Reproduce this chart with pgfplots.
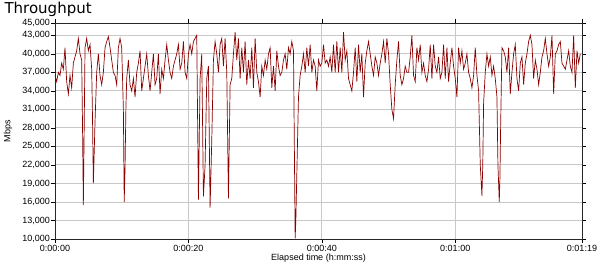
\documentclass[border=0pt]{standalone}
\usepackage{pgfplots}
\pgfplotsset{compat=1.18}
\usepackage{pgfplotstable}
\usepackage{fontspec}
\setmainfont{Liberation Sans}
\newfontfamily\titlefont{DejaVu Sans}
\definecolor{tpred}{RGB}{140,0,0}
\definecolor{gridc}{RGB}{200,200,200}

\pgfplotstableread{
t v
0 36500
0.25 35500
0.5 37000
0.75 36500
1.0 38500
1.25 37500
1.5 41000
1.75 35500
2.0 33500
2.25 36500
2.5 34500
2.75 38500
3.0 39500
3.25 40500
3.5 42500
3.75 40000
4.0 39000
4.125 28500
4.25 15500
4.375 28000
4.5 41000
4.75 42500
5.0 40500
5.25 41500
5.5 37500
5.625 29500
5.75 19000
5.875 24000
6.0 29000
6.25 37000
6.5 40000
6.75 36500
7.0 35000
7.25 37000
7.5 41000
7.75 42000
8.0 42800
8.25 41000
8.5 39000
8.75 37000
9.0 36500
9.25 35000
9.5 41000
9.75 42500
10.0 41000
10.25 31000
10.375 16000
10.5 21500
10.625 31000
10.75 36000
11.0 39000
11.25 35000
11.5 34000
11.75 36000
12.0 33000
12.25 37000
12.5 38500
12.75 40500
13.0 34000
13.25 36000
13.5 38000
13.75 40000
14.0 36500
14.25 34000
14.5 37000
14.75 40000
15.0 35000
15.25 36000
15.5 40000
15.75 33500
16.0 37500
16.25 36000
16.5 39000
16.75 41500
17.0 39000
17.25 37000
17.5 36000
17.75 38000
18.0 39000
18.25 40000
18.5 41500
18.75 37500
19.0 38500
19.25 42000
19.5 37000
19.75 36000
20.0 40000
20.25 41500
20.5 40000
20.75 42000
21.0 42500
21.25 43000
21.375 29600
21.5 16400
21.75 36000
22.0 40000
22.25 16900
22.5 22000
22.75 36000
23.0 38000
23.25 15100
23.5 26000
23.75 39000
24.0 42000
24.25 40000
24.5 37000
24.75 41500
25.0 42500
25.25 38000
25.5 42500
25.75 37000
26.0 16600
26.25 35000
26.5 36000
26.75 40000
27.0 43500
27.25 39000
27.5 42500
27.75 36000
28.0 41000
28.25 37000
28.5 42000
28.75 35000
29.0 39000
29.25 36000
29.5 41000
29.75 34500
30.0 42500
30.25 37000
30.5 35500
30.75 33000
31.0 38000
31.25 36500
31.5 39000
31.75 37500
32.0 40000
32.25 41000
32.5 34500
32.75 38000
33.0 34000
33.25 40500
33.5 38000
33.75 36500
34.0 37000
34.25 39000
34.5 40000
34.75 37500
35.0 41000
35.25 40000
35.5 42000
35.75 40500
35.875 25800
36.0 10100
36.1 12900
36.2 18000
36.3 23000
36.4 28000
36.5 33000
36.75 36500
37.0 38000
37.25 40000
37.5 37000
37.75 41000
38.0 38000
38.25 41500
38.5 37000
38.75 39000
39.0 38000
39.25 34000
39.5 39000
39.75 38000
40.0 38500
40.25 41500
40.5 38500
40.75 39000
41.0 38000
41.25 39500
41.5 37000
41.75 41500
42.0 37000
42.25 42000
42.5 37000
42.75 41000
43.0 37000
43.25 43500
43.5 39000
43.75 40500
44.0 36000
44.25 35000
44.5 34000
44.75 37000
45.0 41000
45.25 35500
45.5 41500
45.75 37000
46.0 40000
46.25 33000
46.5 38500
46.75 40500
47.0 42000
47.25 40000
47.5 38000
47.75 36500
48.0 39500
48.25 38500
48.5 36500
48.75 38500
49.0 40000
49.25 42000
49.5 38500
49.75 42500
50.0 40000
50.25 35000
50.5 31000
50.75 29500
51.0 35000
51.25 39000
51.5 42000
51.75 36500
52.0 35000
52.25 36000
52.5 38000
52.75 37000
53.0 37000
53.25 39500
53.5 43000
53.75 36500
54.0 35500
54.25 41000
54.5 39000
54.75 41500
55.0 37000
55.25 38500
55.5 36500
55.75 35500
56.0 37500
56.25 41500
56.5 36000
56.75 41500
57.0 38000
57.25 37000
57.5 39500
57.75 36000
58.0 37000
58.25 41500
58.5 36000
58.75 41000
59.0 35500
59.25 38500
59.5 41000
59.75 38000
60.0 36000
60.25 33000
60.5 41000
60.75 38500
61.0 40500
61.25 37500
61.5 38500
61.75 40000
62.0 37000
62.25 36000
62.5 34500
62.75 36500
63.0 41000
63.25 36500
63.5 34000
63.75 22000
64.0 17000
64.125 22000
64.25 32000
64.5 37000
64.75 40000
65.0 38000
65.25 39500
65.5 36500
65.75 38000
66.0 36000
66.25 33000
66.4 22000
66.6 16000
66.7 20000
66.8 28000
67.0 41000
67.25 40500
67.5 39500
67.75 37000
68.0 41000
68.25 33500
68.5 37000
68.75 40000
69.0 41500
69.25 36000
69.5 34000
69.75 38500
70.0 39500
70.25 35000
70.5 38500
70.75 40000
71.0 42000
71.25 43000
71.5 41500
71.75 36000
72.0 39000
72.25 37500
72.5 35000
72.75 37000
73.0 39500
73.25 40500
73.5 42500
73.75 40000
74.0 38000
74.25 39500
74.5 43000
74.75 33500
75.0 40000
75.25 40500
75.5 41500
75.75 42000
76.0 38500
76.25 38000
76.5 37500
76.75 39000
77.0 40500
77.25 38000
77.5 37000
77.75 43000
78.0 34500
78.25 40500
78.5 38500
78.75 40000
}\throughputdata

\begin{document}
\begin{tikzpicture}
\useasboundingbox (-55pt,-31pt) rectangle (545pt,239pt);
\begin{axis}[
  scale only axis,
  width=527pt, height=216pt,
  xmin=0, xmax=79, ymin=10000, ymax=45000,
  scaled y ticks=false, scaled x ticks=false,
  xtick={0,20,40,60,79},
  xticklabels={0:00:00,0:00:20,0:00:40,0:01:00,0:01:19},
  ytick={10000,13000,16000,19000,22000,25000,28000,31000,34000,37000,40000,43000,45000},
  yticklabels={{10,000},{13,000},{16,000},{19,000},{22,000},{25,000},{28,000},{31,000},{34,000},{37,000},{40,000},{43,000},{45,000}},
  xmajorgrids, ymajorgrids,
  grid style={gridc, line width=0.9pt},
  tick align=outside,
  major tick length=4pt,
  tick style={black, line width=0.6pt},
  axis line style={black!85, line width=0.8pt},
  ticklabel style={font=\fontsize{9}{10}\selectfont},
  yticklabel style={inner sep=1pt},
  xticklabel style={inner sep=1pt, yshift=-1pt},
]
\addplot[tpred, line width=0.7pt] table[x=t, y=v] {\throughputdata};
\end{axis}
\node[anchor=base west, font=\titlefont\fontsize{15}{18}\selectfont] at (-54pt,225pt) {Throughput};
\node[rotate=90, font=\fontsize{9}{10}\selectfont] at (-47pt,108pt) {Mbps};
\node[font=\fontsize{9}{10}\selectfont] at (263.5pt,-19pt) {Elapsed time (h:mm:ss)};
\end{tikzpicture}
\end{document}
